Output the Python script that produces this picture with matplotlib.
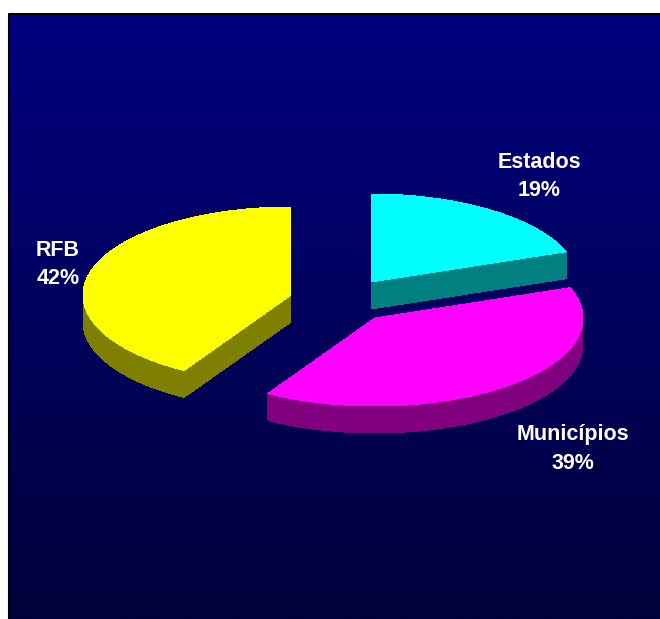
import numpy as np
import matplotlib
matplotlib.use('Agg')
import matplotlib.pyplot as plt
from matplotlib.patches import Polygon

labels = ["Estados", "Municípios", "RFB"]
pct_labels = ["19%", "39%", "42%"]
values = [19.4, 39.2, 41.4]
top_colors = ["#00ffff", "#ff00ff", "#ffff00"]
side_colors = ["#008080", "#800080", "#808000"]

# apex of each exploded slice, in pixels of the original picture
apex = [(371, 282), (375, 318), (291, 295)]
label_pos = [(539.5, 176.5), (573, 449), (58, 264.5)]

rx, ry = 208, 88
depth = 27


def rim(x0, y0, a1, a2, dy=0):
    # angles in degrees, clockwise from 12 o'clock
    t = np.radians(np.linspace(a1, a2, 200))
    return np.column_stack([x0 + rx * np.sin(t), y0 - ry * np.cos(t) + dy])


def cut_face(ax, x0, y0, a, color):
    p = rim(x0, y0, a, a)[0]
    quad = [(x0, y0), p, (p[0], p[1] + depth), (x0, y0 + depth)]
    ax.add_patch(Polygon(quad, closed=True, fc=color, ec='none', antialiased=False, zorder=2))


fig = plt.figure(figsize=(6.6, 6.19), dpi=100)
ax = fig.add_axes([0, 0, 1, 1])

# background, navy fading down
grad = np.linspace(128, 58, 256).reshape(-1, 1) / 255
bg = np.dstack([np.zeros_like(grad), np.zeros_like(grad), grad])
ax.imshow(bg, extent=(9, 660, 619, 14), aspect='auto', zorder=0)
ax.set_xlim(0, 660)
ax.set_ylim(619, 0)
ax.axis('off')
ax.plot([9, 9, 660], [619, 14, 14], color='black', lw=1.5, zorder=1)

start = 0
for i, v in enumerate(values):
    end = start + v / sum(values) * 360
    x0, y0 = apex[i]

    # front rim, only the part of the arc facing us
    a1, a2 = max(start, 90), min(end, 270)
    if a2 > a1:
        outer = rim(x0, y0, a1, a2)
        lower = rim(x0, y0, a1, a2, depth)[::-1]
        ax.add_patch(Polygon(np.vstack([outer, lower]), closed=True, fc=side_colors[i],
                             ec='none', antialiased=False, zorder=2))

    # cut faces: right slice shows its end, left slice shows its start
    if end < 90:
        cut_face(ax, x0, y0, end, side_colors[i])
    if start > 180:
        cut_face(ax, x0, y0, start, side_colors[i])

    pts = np.vstack([[(x0, y0)], rim(x0, y0, start, end)])
    ax.add_patch(Polygon(pts, closed=True, fc=top_colors[i], ec='none', antialiased=False, zorder=3))
    ax.text(label_pos[i][0], label_pos[i][1], f"{labels[i]}\n{pct_labels[i]}", color='white',
            fontsize=15.5, fontweight='bold', family='Liberation Sans', ha='center', va='center',
            linespacing=1.5, zorder=4)
    start = end

plt.savefig('out.png', dpi=100, facecolor='white')
